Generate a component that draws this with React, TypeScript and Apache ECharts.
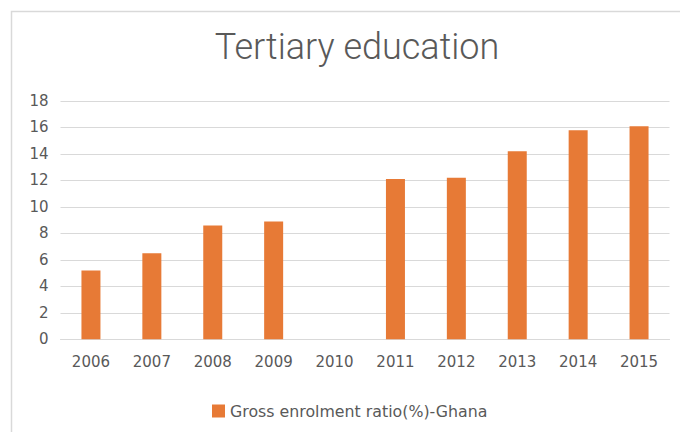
import React, { useEffect, useRef } from "react";
import * as echarts from "echarts";

const categories = ["2006", "2007", "2008", "2009", "2010", "2011", "2012", "2013", "2014", "2015"];
const enrolment: (number | null)[] = [5.2, 6.5, 8.6, 8.9, null, 12.1, 12.2, 14.2, 15.8, 16.1];
const seriesName = "Gross enrolment ratio(%)-Ghana";
const titleText = "Tertiary education";

const TEXT = "#595959";
const GRID = "#D9D9D9";
const BAR = "#E77A36";

export default function App() {
  const ref = useRef<HTMLDivElement>(null);
  useEffect(() => {
    if (!ref.current) return;
    const chart = echarts.init(ref.current, undefined, { renderer: "svg" });
    chart.setOption({
      animation: false,
      backgroundColor: "#ffffff",
      title: {
        text: titleText,
        left: 352,
        top: 24,
        textAlign: "center",
        textStyle: {
          fontFamily: "Roboto",
          fontWeight: 300,
          fontSize: 36,
          color: TEXT,
        },
      },
      graphic: [
        {
          type: "rect",
          shape: { x: 11.5, y: 11.5, width: 720, height: 460 },
          style: { fill: "none", stroke: GRID, lineWidth: 1.5 },
          silent: true,
        },
      ],
      legend: {
        data: [seriesName],
        left: 212,
        top: 403,
        padding: 0,
        itemWidth: 13,
        itemHeight: 13,
        itemGap: 10,
        icon: "rect",
        textStyle: { fontFamily: "DejaVu Sans", fontSize: 15.8, color: TEXT },
      },
      grid: { left: 60.5, right: 10.5, top: 101, bottom: 92.7, containLabel: false },
      xAxis: {
        type: "category",
        data: categories,
        axisLine: { lineStyle: { color: GRID, width: 1 } },
        axisTick: { show: false },
        axisLabel: { fontFamily: "DejaVu Sans", fontSize: 15, color: TEXT, margin: 15 },
      },
      yAxis: {
        type: "value",
        min: 0,
        max: 18,
        interval: 2,
        axisLine: { show: false },
        axisTick: { show: false },
        splitLine: { lineStyle: { color: GRID, width: 1 } },
        axisLabel: { fontFamily: "DejaVu Sans", fontSize: 15, color: TEXT, margin: 12 },
      },
      series: [
        {
          name: seriesName,
          type: "bar",
          data: enrolment,
          barWidth: 19,
          itemStyle: { color: BAR },
        },
      ],
    });
    return () => chart.dispose();
  }, []);
  return (
    <div
      ref={ref}
      style={{ position: "fixed", left: 0, top: 0, width: 680, height: 432 }}
    />
  );
}
